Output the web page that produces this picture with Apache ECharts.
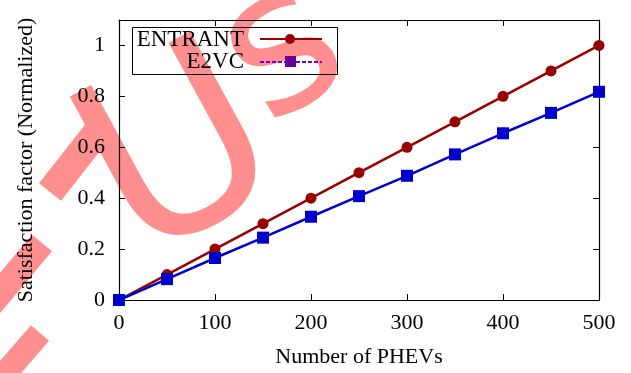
<!DOCTYPE html>
<html>
<head>
<meta charset="utf-8">
<script src="https://cdn.jsdelivr.net/npm/echarts@6/dist/echarts.min.js"></script>
<style>
  html, body { margin: 0; padding: 0; background: #fff; }
  #chart { width: 631px; height: 373px; }
</style>
</head>
<body>
<div id="chart"></div>
<script>
// data
var phevs = [0, 50, 100, 150, 200, 250, 300, 350, 400, 450, 500];
var entrant = [0, 0.1, 0.2, 0.3, 0.4, 0.5, 0.6, 0.7, 0.8, 0.9, 1.0];
var e2vc = [0, 0.082, 0.165, 0.245, 0.327, 0.408, 0.488, 0.572, 0.655, 0.735, 0.818];

var font = 'Liberation Serif';
var wm = '#ff8f8f';

function pairs(xs, ys) {
    return xs.map(function(x, i) { return [x, ys[i]]; });
}

var myChart = echarts.init(document.getElementById('chart'));

var tickStyle = { show: true, inside: true, length: 6, lineStyle: { color: '#000', width: 1 } };
var frameLine = { show: true, onZero: false, lineStyle: { color: '#000', width: 1.2 } };

var option = {
    animation: false,
    grid: { left: 119, right: 32, top: 20, bottom: 72 },
    xAxis: [
        {
            type: 'value', min: 0, max: 500, interval: 100,
            name: 'Number of PHEVs', nameLocation: 'middle', nameGap: 46,
            nameTextStyle: { fontFamily: font, fontSize: 22, color: '#000' },
            axisLine: frameLine,
            axisTick: tickStyle,
            axisLabel: { fontFamily: font, fontSize: 22, color: '#000', margin: 12 },
            splitLine: { show: false }
        },
        {
            type: 'value', position: 'top', min: 0, max: 500, interval: 100,
            axisLine: frameLine,
            axisTick: tickStyle,
            axisLabel: { show: false },
            splitLine: { show: false }
        }
    ],
    yAxis: [
        {
            type: 'value', min: 0, max: 1.1, interval: 0.2,
            name: 'Satisfaction factor (Normalized)', nameLocation: 'middle', nameGap: 82,
            nameTextStyle: { fontFamily: font, fontSize: 22, color: '#000' },
            axisLine: frameLine,
            axisTick: tickStyle,
            axisLabel: {
                fontFamily: font, fontSize: 22, color: '#000', margin: 14,
                formatter: function(v) { return v > 1.05 ? '' : String(+v.toFixed(1)); }
            },
            splitLine: { show: false }
        },
        {
            type: 'value', position: 'right', min: 0, max: 1.1, interval: 0.2,
            axisLine: frameLine,
            axisTick: tickStyle,
            axisLabel: { show: false },
            splitLine: { show: false }
        }
    ],
    series: [
        {
            name: 'E2VC', type: 'line', data: pairs(phevs, e2vc),
            symbol: 'rect', symbolSize: 12,
            lineStyle: { color: '#0000cc', width: 2.5 },
            itemStyle: { color: '#0000cc' },
            z: 3
        },
        {
            name: 'ENTRANT', type: 'line', data: pairs(phevs, entrant),
            symbol: 'circle', symbolSize: 11,
            lineStyle: { color: '#990000', width: 2.5 },
            itemStyle: { color: '#990000' },
            z: 2
        }
    ],
    graphic: [
        // watermark, under everything
        { type: 'text', x: 185, y: 165, rotation: 0.5, z: -10,
          style: { text: 'U', font: '245px "DejaVu Sans"', fill: wm, align: 'center', verticalAlign: 'middle' } },
        { type: 'text', x: 285, y: 55, rotation: 0.55, z: -10,
          style: { text: 's', font: '200px "DejaVu Sans"', fill: wm, align: 'center', verticalAlign: 'middle' } },
        { type: 'line', shape: { x1: 50, y1: 192, x2: 105, y2: 122 }, z: -10,
          style: { stroke: wm, lineWidth: 28 } },
        { type: 'line', shape: { x1: -10, y1: 305, x2: 42, y2: 243 }, z: -10,
          style: { stroke: wm, lineWidth: 26 } },
        { type: 'line', shape: { x1: -5, y1: 385, x2: 40, y2: 333 }, z: -10,
          style: { stroke: wm, lineWidth: 24 } },
        // key box
        { type: 'rect', left: 132, top: 27, shape: { width: 205, height: 47 },
          style: { fill: 'rgba(0,0,0,0)', stroke: '#000', lineWidth: 1 }, z: 10 },
        { type: 'text', x: 244, y: 40, z: 11,
          style: { text: 'ENTRANT', font: '23px ' + font, fill: '#000', align: 'right', verticalAlign: 'middle' } },
        { type: 'line', shape: { x1: 260, y1: 39, x2: 322, y2: 39 }, z: 11,
          style: { stroke: '#990000', lineWidth: 2 } },
        { type: 'circle', shape: { cx: 290, cy: 39, r: 5 }, z: 11, style: { fill: '#990000' } },
        { type: 'text', x: 244, y: 62, z: 11,
          style: { text: 'E2VC', font: '23px ' + font, fill: '#000', align: 'right', verticalAlign: 'middle' } },
        { type: 'line', shape: { x1: 260, y1: 62, x2: 322, y2: 62 }, z: 11,
          style: { stroke: '#7700cc', lineWidth: 2, lineDash: [4, 2] } },
        { type: 'rect', shape: { x: 285, y: 56, width: 11, height: 11 }, z: 11, style: { fill: '#660099' } }
    ]
};

myChart.setOption(option);
</script>
</body>
</html>
